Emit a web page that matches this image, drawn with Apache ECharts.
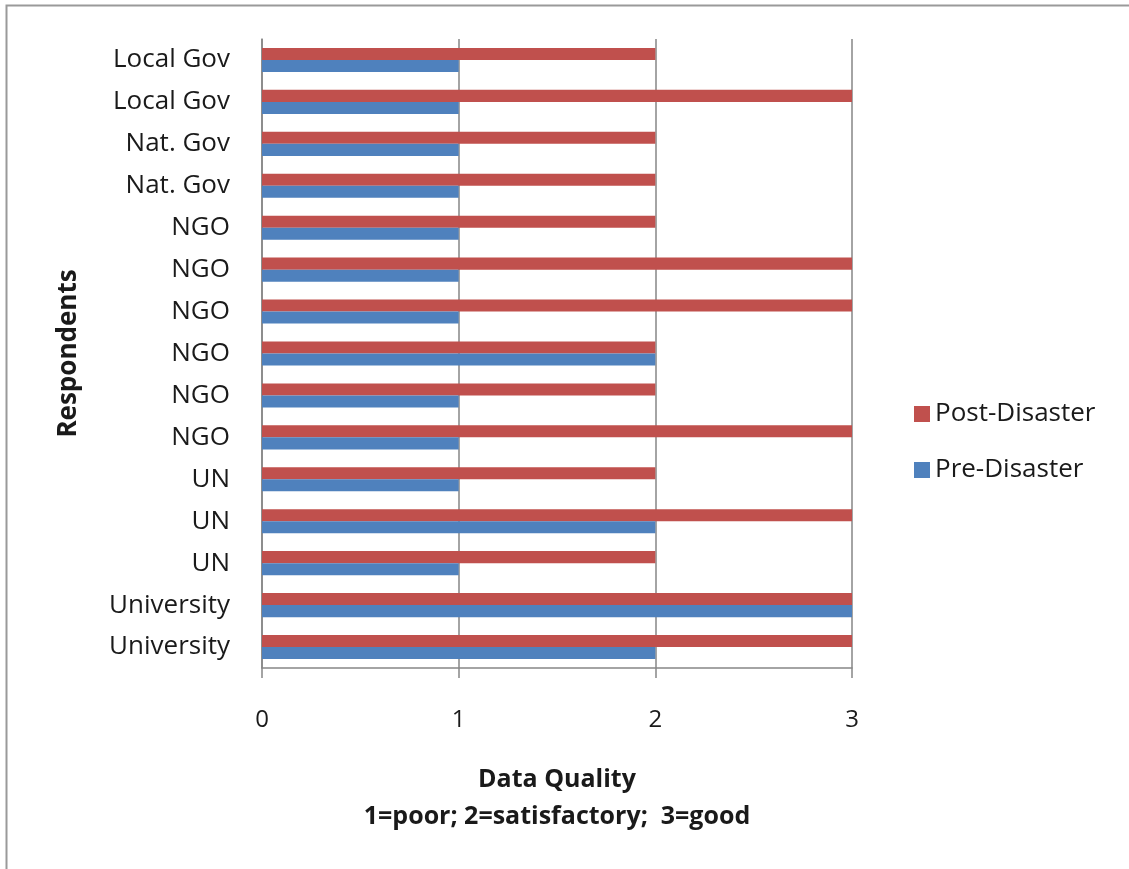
<!DOCTYPE html>
<html>
<head>
<meta charset="utf-8">
<script src="https://cdn.jsdelivr.net/npm/echarts@6/dist/echarts.min.js"></script>
<style>html,body{margin:0;padding:0;background:#fff;}#c{width:1129px;height:869px;}</style>
</head>
<body>
<div id="c"></div>
<script>
// Categories listed bottom to top
const categories = ['University','University','UN','UN','UN','NGO','NGO','NGO','NGO','NGO','NGO','Nat. Gov','Nat. Gov','Local Gov','Local Gov'];
const postDisaster = [3,3,2,3,2,3,2,2,3,3,2,2,2,3,2];
const preDisaster  = [2,3,1,2,1,1,1,2,1,1,1,1,1,1,1];
const xTicks = [0,1,2,3];
const seriesNames = ['Post-Disaster','Pre-Disaster'];
const xTitle = 'Data Quality\n1=poor; 2=satisfactory;  3=good';
const yTitle = 'Respondents';

const FONT = 'Open Sans';
const chart = echarts.init(document.getElementById('c'), null, {renderer:'canvas'});
chart.setOption({
  animation:false,
  backgroundColor:'#fff',
  textStyle:{fontFamily:FONT},
  graphic:[{type:'rect', shape:{x:6.5,y:5.5,width:1300,height:1000}, style:{fill:null, stroke:'#9a9a9a', lineWidth:2}, silent:true}],
  grid:{left:262, right:277, top:39, bottom:201, containLabel:false},
  legend:{
    orient:'vertical', left:914, top:399, padding:0, itemWidth:16, itemHeight:16, itemGap:26,
    icon:'rect', data:seriesNames,
    textStyle:{fontFamily:FONT, fontSize:26, color:'#1a1a1a', lineHeight:30}
  },
  xAxis:{
    type:'value', min:xTicks[0], max:xTicks[xTicks.length-1], interval:1,
    axisLine:{show:true, lineStyle:{color:'#868686', width:1.5}},
    axisTick:{show:true, length:10, lineStyle:{color:'#868686', width:1.5}},
    axisLabel:{margin:40, fontFamily:FONT, fontSize:24, color:'#1a1a1a'},
    splitLine:{show:true, lineStyle:{color:'#868686', width:1.5}},
    name:xTitle, nameLocation:'middle', nameGap:93,
    nameTextStyle:{fontFamily:FONT, fontSize:25, fontWeight:'bold', color:'#1a1a1a', lineHeight:37}
  },
  yAxis:{
    type:'category', data:categories,
    axisLine:{show:true, lineStyle:{color:'#868686', width:1.5}},
    axisTick:{show:false},
    axisLabel:{margin:32, fontFamily:FONT, fontSize:26, color:'#1a1a1a'},
    splitLine:{show:false},
    name:yTitle, nameLocation:'middle', nameRotate:90, nameGap:180,
    nameTextStyle:{fontFamily:FONT, fontSize:26, fontWeight:'bold', color:'#1a1a1a'}
  },
  series:[
    {name:seriesNames[0], type:'bar', data:postDisaster, itemStyle:{color:'#C0504D'}, barGap:'0%', barCategoryGap:'42.5%'},
    {name:seriesNames[1], type:'bar', data:preDisaster, itemStyle:{color:'#4F81BD'}, barGap:'0%', barCategoryGap:'42.5%'}
  ]
});
</script>
</body>
</html>
